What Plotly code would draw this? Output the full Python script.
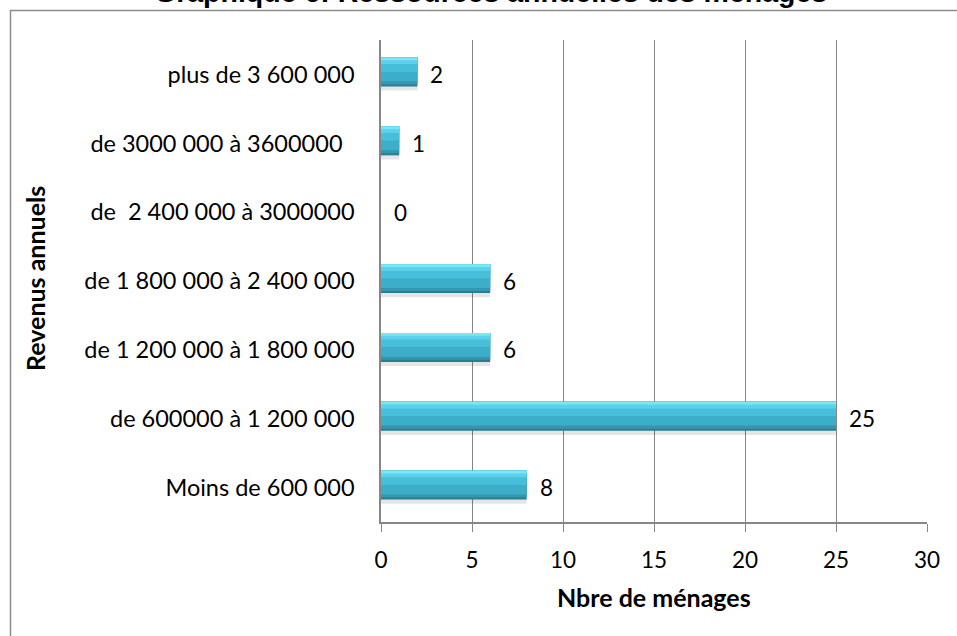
import plotly.graph_objects as go

# ---- data ----
categories = [
    "Moins de 600 000",
    "de 600000 à 1 200 000",
    "de 1 200 000 à 1 800 000",
    "de 1 800 000 à 2 400 000",
    "de\u00a0 2 400 000 à 3000000",
    "de 3000 000 à 3600000\u00a0\u00a0",
    "plus de 3 600 000",
]
values = [8, 25, 6, 6, 0, 1, 2]
x_ticks = [0, 5, 10, 15, 20, 25, 30]
title_text = "Graphique 6: Ressources annuelles des ménages"
x_title = "Nbre de ménages"
y_title = "Revenus annuels"

W, H = 957, 636
L, R, T, B = 381, 30, 40, 114
pw, ph = W - L - R, H - T - B

def px_x(p):
    return (p - L) / pw

def px_y(p):
    return (H - B - p) / ph

FONT = "Lato, 'DejaVu Sans', sans-serif"
GRID = "#868686"

fig = go.Figure()

# bar layers: (offset, width, color) build a bevelled look
layers = [
    (-0.235, 0.12, "rgba(0,0,0,0.10)"),
    (-0.175, 0.42, "#2C7D92"),
    (-0.145, 0.39, "#3596AE"),
    (-0.10, 0.345, "#3DAECA"),
    (0.04, 0.205, "#48BFDA"),
    (0.15, 0.095, "#5CD2EA"),
    (0.205, 0.04, "#7CE6F6"),
]
for off, wd, col in layers:
    fig.add_trace(go.Bar(
        x=values, y=categories, orientation="h",
        offset=off, width=wd,
        marker=dict(color=col, line=dict(width=0)),
        hoverinfo="skip", showlegend=False,
    ))

# data labels
for c, v in zip(categories, values):
    fig.add_annotation(
        x=v, y=c, xref="x", yref="y", text=str(v),
        showarrow=False, xanchor="left", xshift=11,
        font=dict(family=FONT, size=22.5, color="black"),
    )

# titles
fig.add_annotation(
    x=px_x(490), y=px_y(10), xref="paper", yref="paper",
    text="<b>" + title_text + "</b>", showarrow=False,
    xanchor="center", yanchor="bottom",
    font=dict(family="'Liberation Sans', Arial, sans-serif", size=28.5, color="black"),
)
fig.add_annotation(
    x=px_x(654), y=px_y(597), xref="paper", yref="paper",
    text="<b>" + x_title + "</b>", showarrow=False,
    xanchor="center", yanchor="middle",
    font=dict(family=FONT, size=25, color="black"),
)
fig.add_annotation(
    x=px_x(35), y=px_y(279), xref="paper", yref="paper",
    text="<b>" + y_title + "</b>", showarrow=False, textangle=-90,
    xanchor="center", yanchor="middle",
    font=dict(family=FONT, size=25, color="black"),
)

# outer frame (extends beyond the visible area)
fig.add_shape(
    type="rect", xref="paper", yref="paper",
    x0=px_x(10.5), x1=px_x(1100), y0=px_y(10.5), y1=px_y(800),
    line=dict(color="#8C8C8C", width=1.5), fillcolor="rgba(0,0,0,0)",
    layer="below",
)

fig.update_layout(
    width=W, height=H,
    margin=dict(l=L, r=R, t=T, b=B, pad=0),
    paper_bgcolor="white", plot_bgcolor="white",
    barmode="overlay",
    showlegend=False,
    font=dict(family=FONT, size=22, color="black"),
)
fig.update_xaxes(
    range=[0, 30], tickvals=x_ticks, ticktext=[str(t) for t in x_ticks],
    showgrid=True, gridcolor=GRID, gridwidth=1.3,
    showline=True, linecolor=GRID, linewidth=1.5,
    ticks="outside", ticklen=8, tickcolor=GRID, tickwidth=1.3,
    ticklabelstandoff=9, zeroline=False,
    tickfont=dict(family=FONT, size=22.5, color="black"),
    fixedrange=True,
)
fig.update_yaxes(
    type="category", categoryorder="array", categoryarray=categories,
    range=[-0.5, len(categories) - 0.5],
    showgrid=False, showline=True, linecolor=GRID, linewidth=1.5,
    ticks="", ticklabelstandoff=20,
    tickfont=dict(family=FONT, size=23.5, color="black"),
    fixedrange=True,
)

fig.write_html(
    "out.html",
    config={"displayModeBar": False},
    post_script="document.body.style.margin='0';document.body.style.overflow='hidden';",
)
